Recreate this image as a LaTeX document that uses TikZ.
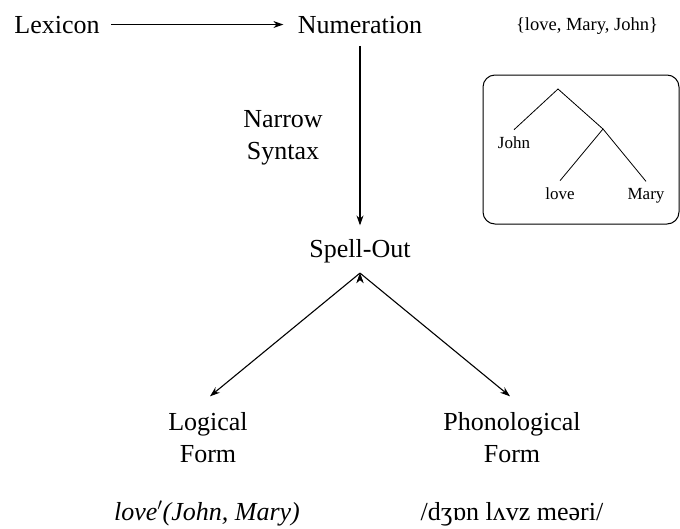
\documentclass[tikz,border=0pt]{standalone}
\usepackage{fontspec}
\setmainfont{Liberation Serif}
\usetikzlibrary{arrows.meta}

\begin{document}
\begin{tikzpicture}[x=1pt,y=-1pt,line width=1.1pt,
    stage/.style={font=\fontsize{26}{32}\selectfont,align=center,inner sep=2pt},
    leaf/.style={font=\fontsize{17}{20}\selectfont,anchor=base,inner sep=0pt,outer sep=6.5pt},
    flow/.style={draw,-{Stealth[length=10pt,width=7pt]}}]
    \useasboundingbox (0,0) rectangle (680,528);
    \node[stage,anchor=base] (lex) at (57,33) {Lexicon};
    \node[stage,anchor=base] (num) at (360,33) {Numeration};
    \node[anchor=base,font=\fontsize{18.5}{22}\selectfont] (set) at (587,30) {\{love, Mary, John\}};
    \node[stage] (syn) at (283,138.2) {Narrow\\Syntax};
    \node[stage,anchor=base] (spell) at (360,257) {Spell-Out};
    \node[stage] (lf) at (208,438) {Logical\\Form};
    \node[stage] (pf) at (512,438) {Phonological\\Form};
    \node[stage,anchor=base] (sem) at (207,520) {\textit{love$'$(John, Mary)}};
    \node[stage,anchor=base] (phon) at (512,520) {/dʒɒn lʌvz meəri/};
    \coordinate (split) at ([yshift=-8pt]spell.south);
    \coordinate (lftip) at ([xshift=2pt,yshift=14pt]lf.north);
    \coordinate (pftip) at ([xshift=-2pt,yshift=14pt]pf.north);
    \path[flow,shorten <=9pt,shorten >=12pt] (lex) edge (num);
    \path[flow,shorten <=10pt,shorten >=11pt] (num) edge (spell);
    \path[flow] (split) edge (lftip);
    \path[flow] (split) edge (pftip);
    % tree in the box
    \draw[rounded corners=12pt,line width=1pt] (483,75) rectangle (679,224);
    \coordinate (root) at (558,89);
    \coordinate (vp) at (603,129);
    \node[leaf] (john) at (514,148) {John};
    \node[leaf] (love) at (560,199) {love};
    \node[leaf] (mary) at (646,199) {Mary};
    \draw[line width=0.8pt] (john.north) -- (root) -- (vp) -- (love.north);
    \draw[line width=0.8pt] (vp) -- (mary.north);
\end{tikzpicture}
\end{document}
